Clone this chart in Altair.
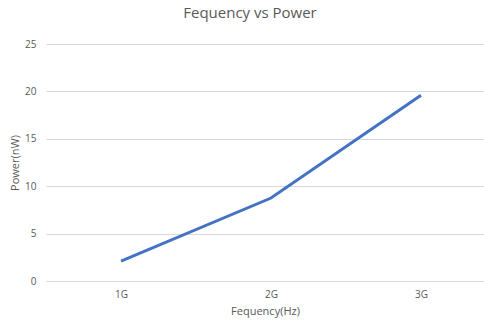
import altair as alt
import pandas as pd

categories = ["1G", "2G", "3G"]
power = [2.1, 8.75, 19.6]

df = pd.DataFrame({"idx": [1, 2, 3], "freq": categories, "power": power})

label_expr = "['1G','2G','3G'][datum.value-1]"

chart = alt.Chart(df).mark_line(color="#4472C4", strokeWidth=3, clip=False).encode(
    x=alt.X("idx:Q", scale=alt.Scale(domain=[0.5, 3.42], nice=False, zero=False),
            axis=alt.Axis(values=[1, 2, 3], labelExpr=label_expr, title="Fequency(Hz)",
                          grid=False, ticks=False, domainColor="#d9d9d9", labelPadding=8,
                          labelColor="#595959", labelFontSize=10, titleColor="#595959",
                          titleFontSize=11, titleFontWeight="normal", titlePadding=6,
                          labelFont="Open Sans", titleFont="Open Sans")),
    y=alt.Y("power:Q", scale=alt.Scale(domain=[0, 25], nice=False),
            axis=alt.Axis(values=[0, 5, 10, 15, 20, 25], title="Power(nW)", domain=False, ticks=False,
                          gridColor="#d9d9d9", labelPadding=10, labelColor="#595959",
                          labelFontSize=10, titleColor="#595959", titleFontSize=11,
                          titleFontWeight="normal", titlePadding=4,
                          labelFont="Open Sans", titleFont="Open Sans")),
).properties(
    width=438, height=237,
    title=alt.TitleParams("Fequency vs Power", fontSize=15, font="Open Sans", fontWeight="normal",
                          color="#595959", anchor="middle", dx=-15, offset=18),
    autosize=alt.AutoSizeParams(type="none"),
    padding={"left": 46, "top": 44, "right": 0, "bottom": 50},
).configure_view(stroke=None)

chart.save("out.html", embed_options={"renderer": "svg", "actions": False})
